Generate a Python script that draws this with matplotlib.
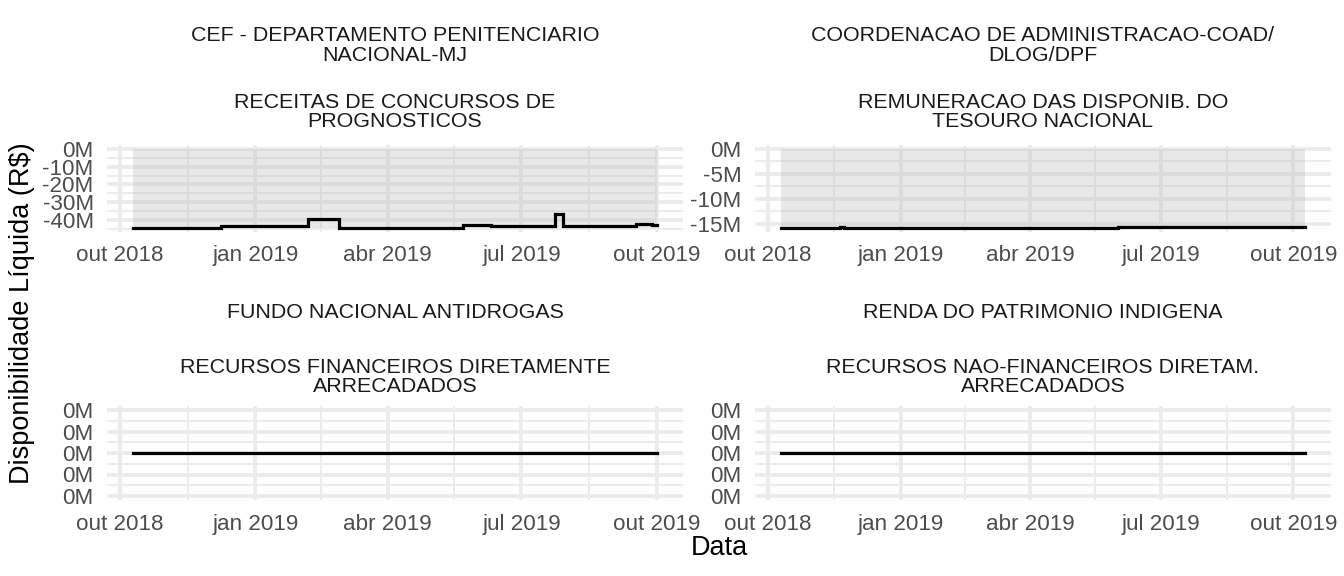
import numpy as np
import pandas as pd
import matplotlib
matplotlib.use('Agg')
import matplotlib.pyplot as plt

plt.rcParams['font.family'] = ['Liberation Sans', 'DejaVu Sans']

# ---- dados (R$ milhões) ----
orgaos = ['CEF - DEPARTAMENTO PENITENCIARIO\nNACIONAL-MJ',
          'COORDENACAO DE ADMINISTRACAO-COAD/\nDLOG/DPF',
          'FUNDO NACIONAL ANTIDROGAS',
          'RENDA DO PATRIMONIO INDIGENA']
fontes = ['RECEITAS DE CONCURSOS DE\nPROGNOSTICOS',
          'REMUNERACAO DAS DISPONIB. DO\nTESOURO NACIONAL',
          'RECURSOS FINANCEIROS DIRETAMENTE\nARRECADADOS',
          'RECURSOS NAO-FINANCEIROS DIRETAM.\nARRECADADOS']

datas_cef = ['2018-10-10', '2018-12-09', '2019-02-06', '2019-02-27', '2019-05-22',
             '2019-06-10', '2019-07-24', '2019-07-29', '2019-09-17', '2019-09-28', '2019-10-01']
valores_cef = [-44.4, -43.4, -39.5, -44.4, -43.0, -43.7, -36.6, -43.7, -42.6, -42.9, -42.9]

datas_coad = ['2018-10-10', '2018-11-20', '2018-11-23', '2019-03-10', '2019-03-15',
              '2019-06-01', '2019-10-09']
valores_coad = [-15.78, -15.74, -15.78, -15.80, -15.77, -15.76, -15.76]

datas_funad = ['2018-10-10', '2019-10-01']
valores_funad = [0.0, 0.0]

datas_renda = ['2018-10-10', '2019-10-09']
valores_renda = [0.0, 0.0]

series = [(datas_cef, valores_cef), (datas_coad, valores_coad),
          (datas_funad, valores_funad), (datas_renda, valores_renda)]

# ---- layout em pixels (1344 x 576) ----
W, H = 1344, 576
fig = plt.figure(figsize=(7, 3), dpi=192)

def px_axes(x0, y0, x1, y1):
    return fig.add_axes([x0 / W, 1 - y1 / H, (x1 - x0) / W, (y1 - y0) / H])

paineis = [(107, 145, 683, 231.6), (755, 145, 1331, 231.6),
           (107, 405.7, 683, 500.3), (755, 405.7, 1331, 500.3)]
titulo_y = [(35, 56, 101, 123), (35, 56, 101, 123), (312, None, 366, 388), (312, None, 366, 388)]

grid_cor = '#EBEBEB'
major_x = pd.to_datetime(['2018-10-01', '2019-01-01', '2019-04-01', '2019-07-01', '2019-10-01'])
minor_x = pd.to_datetime(['2018-11-16', '2019-02-15', '2019-05-16', '2019-08-16'])
rot_x = ['out 2018', 'jan 2019', 'abr 2019', 'jul 2019', 'out 2019']

tam_strip = 8.0
tam_tick = 8.4
tam_titulo = 10.2


def rotulo_m(v):
    return f"{int(round(v)) + 0}M"


for i, ((x0, y0, x1, y1), (ds, vs)) in enumerate(zip(paineis, series)):
    ax = px_axes(x0, y0, x1, y1)
    d = pd.to_datetime(ds)
    v = np.array(vs)

    # limites como no ggplot (expansão 5%)
    dmin, dmax = d.min(), d.max()
    span = dmax - dmin
    ax.set_xlim(dmin - span * 0.05, dmax + span * 0.05)

    if v.min() < 0:
        lo, hi = v.min(), 0.0
        r = hi - lo
        ax.set_ylim(lo - 0.05 * r, hi + 0.05 * r)
        passo = 10 if r > 30 else 5
        maj = np.arange(0, lo - 1e-9, -passo)
        mnr = np.arange(-passo / 2, lo - 0.05 * r, -passo)
        ax.axvspan(dmin, dmax, ymin=0.05 / 1.1, ymax=1.05 / 1.1,
                   facecolor='#BEBEBE', alpha=0.35, lw=0, zorder=1)
    else:
        a = 0.05
        ax.set_ylim(-a * 1.1, a * 1.1)
        maj = np.linspace(-a, a, 5)
        mnr = (maj[:-1] + maj[1:]) / 2

    for y in maj:
        ax.axhline(y, color=grid_cor, lw=1.4, zorder=0)
    for y in mnr:
        ax.axhline(y, color=grid_cor, lw=0.7, zorder=0)
    for x in major_x:
        ax.axvline(x, color=grid_cor, lw=1.4, zorder=0)
    for x in minor_x:
        ax.axvline(x, color=grid_cor, lw=0.7, zorder=0)

    ax.plot(d, v, drawstyle='steps-post', color='black', lw=1.2, zorder=3,
            solid_joinstyle='miter')

    ax.set_yticks(maj)
    ax.set_yticklabels([rotulo_m(t) for t in maj])
    ax.set_xticks(major_x)
    ax.set_xticklabels(rot_x)
    ax.tick_params(length=0, pad=5, labelsize=tam_tick, labelcolor='#4D4D4D')
    for s in ax.spines.values():
        s.set_visible(False)
    ax.set_facecolor('none')

    cx = (x0 + x1) / 2 / W
    t = titulo_y[i]
    fig.text(cx, 1 - (t[0] + (t[1] - t[0]) / 2 if t[1] else t[0]) / H, orgaos[i],
             ha='center', va='center', fontsize=tam_strip, color='#1A1A1A', linespacing=1.05)
    fig.text(cx, 1 - (t[2] + t[3]) / 2 / H, fontes[i],
             ha='center', va='center', fontsize=tam_strip, color='#1A1A1A', linespacing=1.05)

fig.text(719 / W, 1 - 548 / H, 'Data', ha='center', va='center', fontsize=tam_titulo)
fig.text(22 / W, 1 - 313 / H, 'Disponibilidade Líquida (R$)', ha='center', va='center',
         rotation=90, fontsize=tam_titulo)

fig.savefig('out.png', dpi=192)
